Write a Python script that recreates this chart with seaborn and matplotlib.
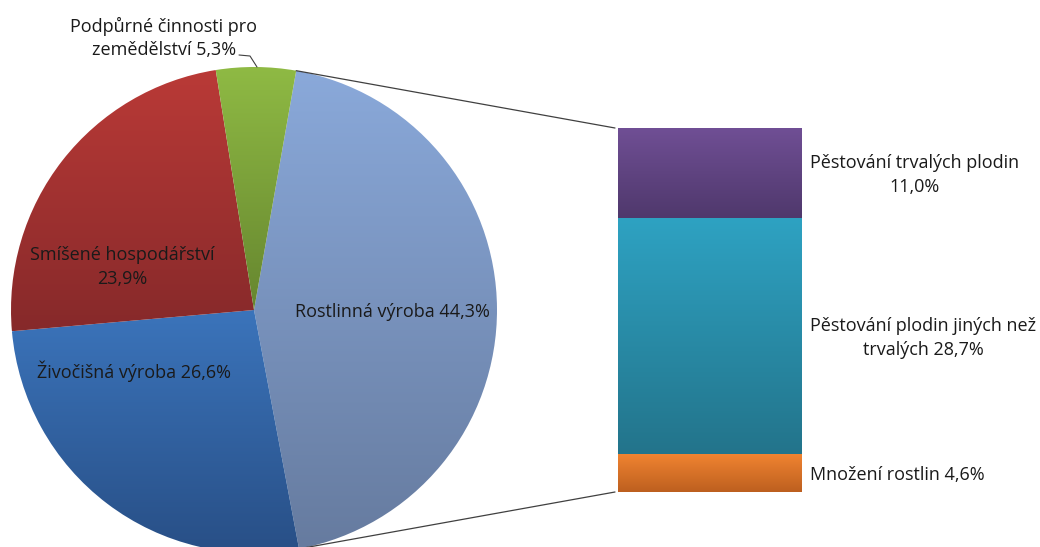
import numpy as np
import matplotlib
matplotlib.use("Agg")
import matplotlib.pyplot as plt
import matplotlib.colors as mcolors
import seaborn as sns

# ---- data ----
pie_labels = ["Rostlinná výroba", "Živočišná výroba", "Smíšené hospodářství", "Podpůrné činnosti pro zemědělství"]
pie_values = [44.3, 26.6, 23.9, 5.3]
bar_labels = ["Množení rostlin", "Pěstování plodin jiných než trvalých", "Pěstování trvalých plodin"]
bar_values = [4.6, 28.7, 11.0]

pie_grad = [("#8aa9da", "#667b9f"), ("#3b74bb", "#284f86"), ("#ba3a37", "#86292a"), ("#8fba44", "#66862f")]
bar_grad = [("#f08431", "#bd5f1f"), ("#2ea2c2", "#23748b"), ("#704f95", "#4f386c")]

sns.set_theme(style="white")
plt.rcParams["font.family"] = ["Open Sans", "DejaVu Sans"]

W, H = 1040, 547
fig = plt.figure(figsize=(W / 100, H / 100), dpi=100)
ax = fig.add_axes([0, 0, 1, 1])
ax.set_xlim(0, W)
ax.set_ylim(0, H)
ax.set_aspect("equal")
ax.axis("off")

def py(y):
    return H - y

cx, cy, R = 254, py(310), 243
start = 80
wedges, _ = ax.pie(pie_values, startangle=start, counterclock=False,
                   center=(cx, cy), radius=R, frame=True,
                   wedgeprops=dict(linewidth=0))
ax.set_xlim(0, W)
ax.set_ylim(0, H)
ax.axis("off")

def grad_fill(a, patch, c_top, c_bot, ext):
    x0, x1, y0, y1 = ext
    cmap = mcolors.LinearSegmentedColormap.from_list("g", [c_bot, c_top])
    g = np.linspace(0, 1, 256).reshape(-1, 1)
    im = a.imshow(g, cmap=cmap, extent=[x0, x1, y0, y1], origin="lower",
                  aspect="auto", zorder=patch.get_zorder(), interpolation="bilinear")
    im.set_clip_path(patch)
    patch.set_facecolor("none")

for w, (ct, cb) in zip(wedges, pie_grad):
    e = w.get_path().get_extents()
    grad_fill(ax, w, ct, cb, (e.x0, e.x1, e.y0, e.y1))

ax.set_xlim(0, W)
ax.set_ylim(0, H)

# ---- bar axes ----
bx0, bx1, by_top, by_bot = 618, 802, 128, 492
bax = fig.add_axes([bx0 / W, py(by_bot) / H, (bx1 - bx0) / W, (by_bot - by_top) / H])
total = sum(bar_values)
bottoms = np.concatenate([[0], np.cumsum(bar_values)[:-1]])
bars = bax.bar([0] * len(bar_values), bar_values, bottom=bottoms, width=1.0, linewidth=0)
bax.set_xlim(-0.5, 0.5)
bax.set_ylim(0, total)
bax.axis("off")
for b, (ct, cb), b0, v in zip(bars, bar_grad, bottoms, bar_values):
    grad_fill(bax, b, ct, cb, (-0.5, 0.5, b0, b0 + v))
bax.set_xlim(-0.5, 0.5)
bax.set_ylim(0, total)

# ---- connector lines ----
a_top = np.deg2rad(start)
a_bot = np.deg2rad(start - pie_values[0] * 3.6)
p_top = (cx + R * np.cos(a_top), cy + R * np.sin(a_top))
p_bot = (cx + R * np.cos(a_bot), cy + R * np.sin(a_bot))
ax.plot([p_top[0], 615], [p_top[1], py(by_top)], color="#404040", lw=0.9, zorder=5)
ax.plot([p_bot[0], 615], [p_bot[1], py(by_bot)], color="#404040", lw=0.9, zorder=5)

# ---- labels ----
fs = 13
ls = 1.42
tc = "#1a1a1a"
def fmt(v):
    return f"{v:.1f}".replace(".", ",") + "%"

ax.text(392, py(312), f"{pie_labels[0]} {fmt(pie_values[0])}", ha="center", va="center", fontsize=fs, color=tc, zorder=6)
ax.text(134, py(371), f"{pie_labels[1]} {fmt(pie_values[1])}", ha="center", va="center", fontsize=fs, color=tc, zorder=6)
ax.text(122, py(267), f"{pie_labels[2]}\n{fmt(pie_values[2])}", ha="center", va="center", fontsize=fs, color=tc, zorder=6, linespacing=ls)
ax.text(164, py(38), "Podpůrné činnosti pro\nzemědělství " + fmt(pie_values[3]), ha="center", va="center", fontsize=fs, color=tc, zorder=6, linespacing=ls)
ax.plot([239, 250, 257], [py(55), py(56), py(67)], color="#404040", lw=0.8, zorder=6)

ax.text(915, py(175), "Pěstování trvalých plodin\n" + fmt(bar_values[2]), ha="center", va="center", fontsize=fs, color=tc, linespacing=ls)
ax.text(923, py(338), "Pěstování plodin jiných než\ntrvalých " + fmt(bar_values[1]), ha="center", va="center", fontsize=fs, color=tc, linespacing=ls)
ax.text(810, py(475), f"{bar_labels[0]} {fmt(bar_values[0])}", ha="left", va="center", fontsize=fs, color=tc)

fig.savefig("out.png", dpi=100, facecolor="white")
